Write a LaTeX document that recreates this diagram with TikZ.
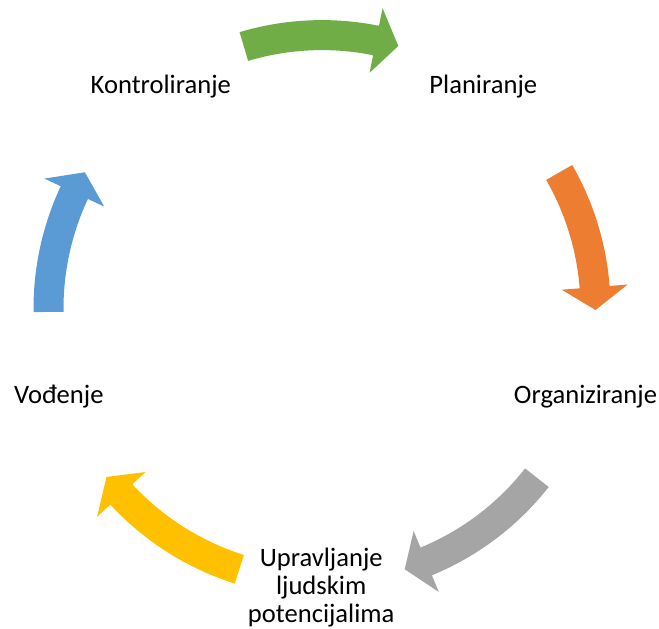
\documentclass[tikz,border=0pt]{standalone}
\usepackage{fontspec}
\setmainfont{Carlito}
\usepackage{tikz}

\definecolor{arrgreen}{HTML}{70AD47}
\definecolor{arrorange}{HTML}{ED7D31}
\definecolor{arrgray}{HTML}{A5A5A5}
\definecolor{arryellow}{HTML}{FFC000}
\definecolor{arrblue}{HTML}{5B9BD5}

\tikzset{lbl/.style={anchor=base, inner sep=0pt, align=center, font=\fontsize{26.6}{28}\selectfont}}

\begin{document}
\begin{tikzpicture}[x=1pt, y=1pt]
\useasboundingbox (-322,-320.4) rectangle (337,308.6);
%\draw [help lines, step=50] (-322,-320) grid (337,308);

% arrows (clockwise)
\fill [arrgreen] (106.6:288.5) arc [start angle=106.6, end angle=78.6, radius=288.5] -- (78.6:306.5) -- (73.8:273.5) -- (78.6:240.5) -- (78.6:258.5) arc [start angle=78.6, end angle=106.6, radius=258.5] -- cycle;
\fill [arrorange] (29.85:288.5) arc [start angle=29.85, end angle=4.5, radius=288.5] -- (4.5:306.5) -- (-0.3:273.5) -- (4.5:240.5) -- (4.5:258.5) arc [start angle=4.5, end angle=29.85, radius=258.5] -- cycle;
\fill [arrgray] (-38.2:288.5) arc [start angle=-38.2, end angle=-67.6, radius=288.5] -- (-67.6:306.5) -- (-72.4:273.5) -- (-67.6:240.5) -- (-67.6:258.5) arc [start angle=-67.6, end angle=-38.2, radius=258.5] -- cycle;
\fill [arryellow] (252.4:288.5) arc [start angle=252.4, end angle=222.8, radius=288.5] -- (222.8:306.5) -- (218:273.5) -- (222.8:240.5) -- (222.8:258.5) arc [start angle=222.8, end angle=252.4, radius=258.5] -- cycle;
\fill [arrblue] (180.7:288.5) arc [start angle=180.7, end angle=154.9, radius=288.5] -- (154.9:306.5) -- (150.1:273.5) -- (154.9:240.5) -- (154.9:258.5) arc [start angle=154.9, end angle=180.7, radius=258.5] -- cycle;

% labels
\node [lbl] (plan) at (161.3,215.3) {Planiranje};
\node [lbl] (org) at (263.5,-94.7) {Organiziranje};
\node [lbl] (upr) at (-0.8,-313.4) {Upravljanje\\ljudskim\\potencijalima};
\node [lbl] (vod) at (-263.2,-94.7) {Vođenje};
\node [lbl] (kontr) at (-161.2,215.3) {Kontroliranje};

\end{tikzpicture}
\end{document}
